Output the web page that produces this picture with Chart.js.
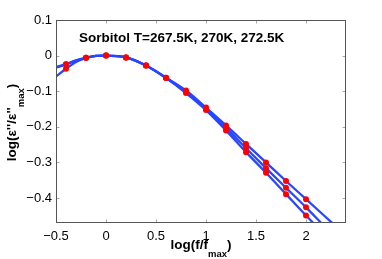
<!DOCTYPE html>
<html>
<head>
<meta charset="utf-8">
<script src="https://cdn.jsdelivr.net/npm/chart.js@4.4.1/dist/chart.umd.min.js"></script>
<style>
  html, body { margin: 0; padding: 0; background: #fff; }
  #wrap { width: 382px; height: 259px; position: relative; }
</style>
</head>
<body>
<div id="wrap"><canvas id="chart"></canvas></div>
<script>
const chartTitle = 'Sorbitol T=267.5K, 270K, 272.5K';
const xTicks = [-0.5, 0, 0.5, 1, 1.5, 2];
const yTicks = [-0.4, -0.3, -0.2, -0.1, 0, 0.1];

// measured points (log f/fmax vs log eps''/eps''max)
const measX = [-0.4, -0.2, 0, 0.2, 0.4, 0.6, 0.8, 1.0, 1.2, 1.4, 1.6, 1.8, 2.0];
const meas267 = [-0.037, -0.006, 0, -0.005, -0.028, -0.062, -0.098, -0.146, -0.196, -0.248, -0.300, -0.352, -0.403];
const meas270 = [-0.024, -0.006, 0, -0.005, -0.028, -0.062, -0.101, -0.150, -0.203, -0.260, -0.316, -0.371, -0.426];
const meas272 = [-0.024, -0.006, 0, -0.005, -0.028, -0.063, -0.105, -0.153, -0.210, -0.271, -0.329, -0.389, -0.449];

// fitted curves
const fit267X = [-0.5, -0.4, -0.3, -0.2, -0.1, 0, 0.2, 0.4, 0.6, 0.8, 1.0, 1.2, 1.4, 1.6, 1.8, 2.0, 2.27];
const fit267Y = [-0.059, -0.037, -0.018, -0.007, -0.001, 0, -0.005, -0.028, -0.062, -0.098, -0.146, -0.196, -0.248, -0.300, -0.352, -0.403, -0.472];
const fit270X = [-0.5, -0.4, -0.3, -0.2, -0.1, 0, 0.2, 0.4, 0.6, 0.8, 1.0, 1.2, 1.4, 1.6, 1.8, 2.0, 2.16];
const fit270Y = [-0.032, -0.024, -0.013, -0.006, -0.001, 0, -0.005, -0.028, -0.062, -0.101, -0.150, -0.203, -0.260, -0.316, -0.371, -0.426, -0.472];
const fit272X = [-0.5, -0.4, -0.3, -0.2, -0.1, 0, 0.2, 0.4, 0.6, 0.8, 1.0, 1.2, 1.4, 1.6, 1.8, 2.0, 2.08];
const fit272Y = [-0.034, -0.025, -0.014, -0.006, -0.001, 0, -0.005, -0.028, -0.063, -0.105, -0.153, -0.210, -0.271, -0.329, -0.389, -0.449, -0.472];

const FONT = "'Liberation Sans', Arial, Helvetica, sans-serif";
Chart.defaults.font.family = FONT;
Chart.defaults.font.size = 13;
Chart.defaults.color = '#000';

const pts = (xs, ys) => xs.map((x, i) => ({ x: x, y: ys[i] }));
const fmt = v => v === 0 ? '0' : (v < 0 ? '\u2212' + String(-v) : String(v));

function dots(ys) {
    return { data: pts(measX, ys), showLine: false, pointRadius: 3, pointHoverRadius: 3,
             pointBackgroundColor: '#ff0000', pointBorderWidth: 0, order: 0 };
}
function fit(xs, ys) {
    return { data: pts(xs, ys), showLine: true, borderColor: '#2846ff', borderWidth: 2.3,
             pointRadius: 0, cubicInterpolationMode: 'monotone', clip: 0, order: 1 };
}

// draws mixed text with subscripts, centred on cx, baseline cy
function drawParts(ctx, parts, cx, cy) {
    const big = 'bold 13.5px ' + FONT, small = 'bold 9.5px ' + FONT;
    let w = 0;
    parts.forEach(([t, sub]) => { ctx.font = sub ? small : big; w += ctx.measureText(t).width; });
    let px = cx - w / 2;
    parts.forEach(([t, sub]) => {
        ctx.font = sub ? small : big;
        ctx.fillText(t, px, cy + (sub ? 8 : 0));
        px += ctx.measureText(t).width;
    });
}

const framePlugin = {
    id: 'frame',
    afterDraw(chart) {
        const { ctx, chartArea: a, scales: { x, y } } = chart;
        const L = Math.round(a.left) + 0.5, R = Math.round(a.right) - 0.5;
        const T = Math.round(a.top) + 0.5, B = Math.round(a.bottom) - 0.5;
        ctx.save();
        ctx.strokeStyle = '#aaa';
        ctx.lineWidth = 1;
        ctx.beginPath();
        xTicks.forEach(v => {
            const px = Math.round(x.getPixelForValue(v)) + 0.5;
            ctx.moveTo(px, B); ctx.lineTo(px, B - 3);
            ctx.moveTo(px, T); ctx.lineTo(px, T + 3);
        });
        yTicks.forEach(v => {
            const py = Math.round(y.getPixelForValue(v)) + 0.5;
            ctx.moveTo(L, py); ctx.lineTo(L + 3, py);
            ctx.moveTo(R, py); ctx.lineTo(R - 3, py);
        });
        ctx.stroke();
        ctx.strokeStyle = '#555';
        ctx.strokeRect(L, T, R - L, B - T);

        ctx.fillStyle = '#000';
        ctx.textBaseline = 'middle';
        ctx.textAlign = 'left';
        ctx.font = 'bold 13.5px ' + FONT;
        ctx.fillText(chartTitle, a.left + 23, a.top + 18);

        ctx.textBaseline = 'alphabetic';
        drawParts(ctx, [['log(f/f', false], ['max', true], [')', false]], (a.left + a.right) / 2, 249);
        ctx.translate(15.5, (a.top + a.bottom) / 2 + 1);
        ctx.rotate(-Math.PI / 2);
        drawParts(ctx, [["log(\u03b5''/\u03b5''", false], ['max', true], [')', false]], 0, 0);
        ctx.restore();
    }
};

new Chart(document.getElementById('chart'), {
    type: 'scatter',
    data: {
        datasets: [dots(meas267), dots(meas270), dots(meas272),
                   fit(fit267X, fit267Y), fit(fit270X, fit270Y), fit(fit272X, fit272Y)]
    },
    options: {
        responsive: true, maintainAspectRatio: false, animation: false,
        layout: { padding: { left: 0, right: 36, top: 20, bottom: 0 } },
        plugins: { legend: { display: false }, tooltip: { enabled: false } },
        scales: {
            x: {
                min: -0.5, max: 2.4,
                afterBuildTicks: s => { s.ticks = xTicks.map(v => ({ value: v })); },
                afterFit: s => { s.height = 36; },
                grid: { display: false, drawTicks: false }, border: { display: false },
                ticks: { padding: 6, callback: fmt, maxRotation: 0, autoSkip: false }
            },
            y: {
                min: -0.47, max: 0.1,
                afterBuildTicks: s => { s.ticks = yTicks.map(v => ({ value: v })); },
                afterFit: s => { s.width = 56; },
                grid: { display: false, drawTicks: false }, border: { display: false },
                ticks: { padding: 4, callback: fmt, autoSkip: false }
            }
        }
    },
    plugins: [framePlugin]
});
</script>
</body>
</html>
